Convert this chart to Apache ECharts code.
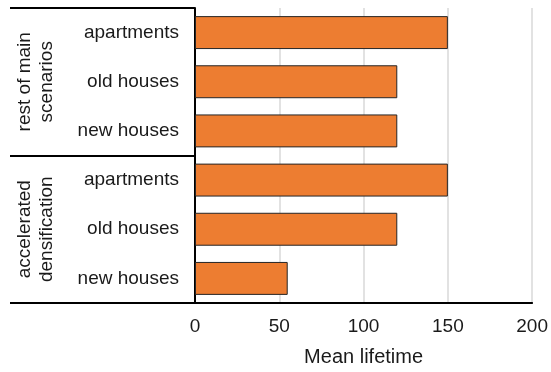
<!DOCTYPE html>
<html>
<head>
<meta charset="utf-8">
<script src="https://cdn.jsdelivr.net/npm/echarts@6/dist/echarts.min.js"></script>
<style>
  html, body { margin: 0; padding: 0; background: #fff; overflow: hidden; }
  #chart { width: 551px; height: 372px; }
</style>
</head>
<body>
<div id="chart"></div>
<script>
// Housing types, listed top to bottom, within each scenario group
const categories = ['apartments', 'old houses', 'new houses', 'apartments', 'old houses', 'new houses'];
// Scenario groups (each spans three housing types)
const groups = ['rest of main\nscenarios', 'accelerated\ndensification'];
// Mean lifetime per row
const lifetimes = [150, 120, 120, 150, 120, 55];
const xTicks = { min: 0, max: 200, interval: 50 };

const FONT = 'Liberation Sans, Arial, sans-serif';
const TEXT = '#1a1a1a';

const chart = echarts.init(document.getElementById('chart'), null, { renderer: 'canvas', width: 551, height: 372 });

chart.setOption({
  animation: false,
  grid: { left: 195, right: 16, top: 8, bottom: 67, containLabel: false },
  xAxis: {
    type: 'value',
    min: xTicks.min, max: xTicks.max, interval: xTicks.interval,
    name: 'Mean lifetime',
    nameLocation: 'middle',
    nameGap: 44,
    nameTextStyle: { fontFamily: FONT, fontSize: 20, color: TEXT },
    axisLine: { show: true, lineStyle: { color: '#000', width: 2 } },
    axisTick: { show: false },
    axisLabel: { fontFamily: FONT, fontSize: 19, color: TEXT, margin: 14 },
    splitLine: { show: true, lineStyle: { color: '#d9d9d9', width: 1.5 } }
  },
  yAxis: [
    {
      type: 'category',
      data: categories.map((c, i) => i + '|' + c),
      inverse: true,
      axisLine: { show: true, lineStyle: { color: '#000', width: 2 } },
      axisTick: { show: false },
      axisLabel: {
        fontFamily: FONT, fontSize: 19, color: TEXT, margin: 16,
        formatter: v => v.split('|')[1]
      }
    },
    {
      // group separators: boundary ticks stretched across the label columns
      type: 'category',
      data: groups,
      inverse: true,
      position: 'left',
      axisLine: { show: false },
      axisTick: { show: true, length: 185, lineStyle: { color: '#000', width: 2 } },
      axisLabel: { show: false }
    }
  ],
  series: [{
    type: 'bar',
    yAxisIndex: 0,
    data: lifetimes,
    barCategoryGap: '33%',
    itemStyle: { color: '#ED7D31', borderColor: '#262626', borderWidth: 1 }
  }]
});

// Rotated group titles, centred on each group's middle row
const graphics = groups.map((g, gi) => {
  const mid = chart.convertToPixel({ yAxisIndex: 1 }, gi);
  return {
    type: 'text',
    x: 36,
    y: mid,
    rotation: Math.PI / 2,
    style: {
      text: g,
      font: '19px ' + FONT,
      fill: TEXT,
      align: 'center',
      verticalAlign: 'middle',
      lineHeight: 22
    }
  };
});
chart.setOption({ graphic: graphics });
</script>
</body>
</html>
